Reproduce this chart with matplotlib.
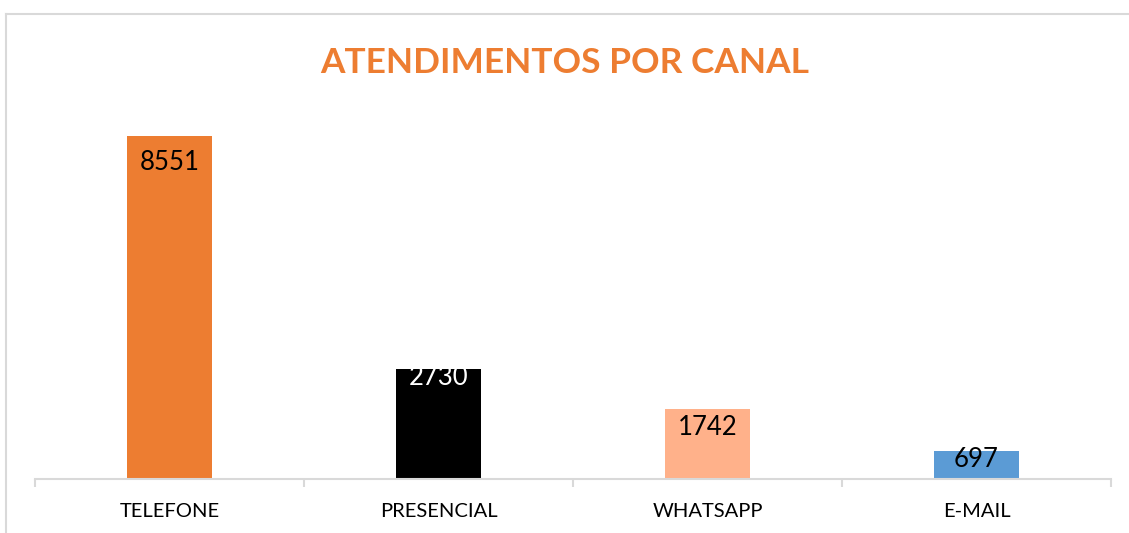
import matplotlib
matplotlib.use("Agg")
import matplotlib.pyplot as plt
from matplotlib.lines import Line2D

categories = ["TELEFONE", "PRESENCIAL", "WHATSAPP", "E-MAIL"]
values = [8551, 2730, 1742, 697]
bar_colors = ["#ED7D31", "#000000", "#FFB18A", "#5B9BD5"]
label_colors = ["#000000", "#FFFFFF", "#000000", "#000000"]
title = "ATENDIMENTOS POR CANAL"

plt.rcParams['font.family'] = ['Lato', 'DejaVu Sans']

W, H = 1129, 533
fig = plt.figure(figsize=(W / 100, H / 100), dpi=100)
fig.patch.set_facecolor("white")

# chart border (top and left visible)
fig.add_artist(Line2D([5.5 / W, 5.5 / W], [0, 1 - 13.5 / H], transform=fig.transFigure,
                      color="#D9D9D9", lw=1.5))
fig.add_artist(Line2D([5.5 / W, 1.0], [1 - 13.5 / H, 1 - 13.5 / H], transform=fig.transFigure,
                      color="#D9D9D9", lw=1.5))

left, right, bottom_px, top_px = 35, 1111, 479, 118
ax = fig.add_axes([left / W, 1 - bottom_px / H, (right - left) / W, (bottom_px - top_px) / H])
ax.set_xlim(-0.5, len(categories) - 0.5)
ax.set_ylim(0, 9000)

x = list(range(len(categories)))
bars = ax.bar(x, values, width=0.316, color=bar_colors, zorder=2)

# label baseline offsets (pixels below bar top)
offsets = [34, 16, 26, 16]
for xi, v, c, off in zip(x, values, label_colors, offsets):
    ax.annotate(str(v), xy=(xi, v), xytext=(0, -off * 0.72), textcoords="offset points",
                ha="center", va="baseline", fontsize=18.5, color=c, zorder=3)

for s in ["top", "right", "left"]:
    ax.spines[s].set_visible(False)
ax.spines["bottom"].set_color("#D9D9D9")
ax.spines["bottom"].set_linewidth(1.5)
ax.set_yticks([])
ax.set_xticks([i - 0.5 for i in range(len(categories) + 1)], minor=False)
ax.set_xticklabels([])
ax.tick_params(axis="x", which="major", length=5.5, width=1.5, color="#D9D9D9")
ax.set_xticks(x, minor=True)
ax.set_xticklabels(categories, minor=True)
ax.tick_params(axis="x", which="minor", length=0, labelsize=14.5, pad=17, labelcolor="#000000")

fig.text(565 / W, 1 - 73 / H, title, ha="center", va="baseline", fontsize=25.4,
         fontweight="bold", color="#ED7D31")

fig.savefig("out.png", dpi=100, facecolor="white")
